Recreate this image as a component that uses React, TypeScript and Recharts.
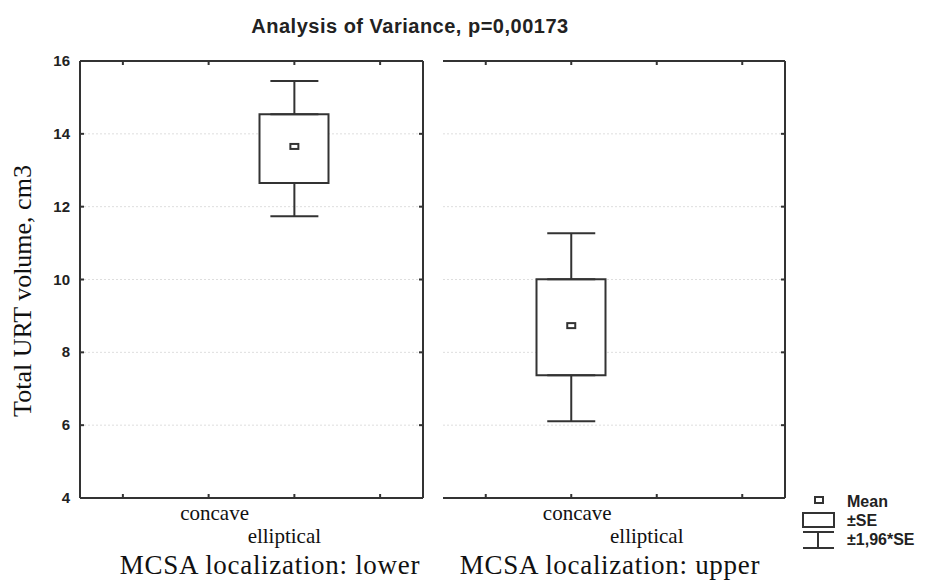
import {
  ComposedChart,
  Bar,
  Scatter,
  ErrorBar,
  XAxis,
  YAxis,
  CartesianGrid,
} from "recharts";

// category slots on each panel's x axis (4 bands, only two are labelled)
const slots = ["s1", "s2", "s3", "s4"];
const slotLabels = ["", "concave", "elliptical", ""];
const yTicks = [4, 6, 8, 10, 12, 14, 16];

// MCSA localization: lower
const lowerMean = [null, null, 13.64, null];
const lowerSeLow = [null, null, 12.65, null];
const lowerSeHigh = [null, null, 14.54, null];
const lowerCiLow = [null, null, 11.74, null];
const lowerCiHigh = [null, null, 15.45, null];

// MCSA localization: upper
const upperMean = [null, 8.72, null, null];
const upperSeLow = [null, 7.37, null, null];
const upperSeHigh = [null, 10.01, null, null];
const upperCiLow = [null, 6.11, null, null];
const upperCiHigh = [null, 11.27, null, null];

const INK = "#333";
const SANS = "'Liberation Sans', Arial, sans-serif";
const SERIF = "'Liberation Serif', 'Times New Roman', serif";

const buildRows = (
  mean: (number | null)[],
  seLow: (number | null)[],
  seHigh: (number | null)[],
  ciLow: (number | null)[],
  ciHigh: (number | null)[]
) =>
  slots.map((slot, i) => {
    const has = mean[i] != null;
    return {
      slot,
      label: slotLabels[i],
      mean: mean[i],
      se: has ? [seLow[i], seHigh[i]] : null,
      seLow: seLow[i],
      seHigh: seHigh[i],
      // whiskers hang off the box edges, so the error is measured from there
      upErr: has ? [0, (ciHigh[i] as number) - (seHigh[i] as number)] : null,
      downErr: has ? [(seLow[i] as number) - (ciLow[i] as number), 0] : null,
    };
  });

const lowerRows = buildRows(lowerMean, lowerSeLow, lowerSeHigh, lowerCiLow, lowerCiHigh);
const upperRows = buildRows(upperMean, upperSeLow, upperSeHigh, upperCiLow, upperCiHigh);

const labelOffset: Record<string, number> = { concave: 6, elliptical: -10 };
const labelDrop: Record<string, number> = { concave: 22, elliptical: 45 };

const BottomTick = (props: any) => {
  const { x, y, payload } = props;
  const idx = slots.indexOf(payload.value);
  const text = slotLabels[idx];
  return (
    <g>
      <line x1={x} x2={x} y1={y} y2={y - 4} stroke={INK} strokeWidth={2} />
      {text && (
        <text
          x={x + labelOffset[text]}
          y={y + labelDrop[text]}
          textAnchor="middle"
          fontFamily={SERIF}
          fontSize={21}
          fill="#111"
        >
          {text}
        </text>
      )}
    </g>
  );
};

const TopTick = (props: any) => (
  <line x1={props.x} x2={props.x} y1={props.y} y2={props.y + 4} stroke={INK} strokeWidth={2} />
);

const LeftTick = (props: any) => {
  const { x, y, payload, showLabel } = props;
  return (
    <g>
      <line x1={x} x2={x + 4} y1={y} y2={y} stroke={INK} strokeWidth={2} />
      {showLabel && (
        <text
          x={x - 10}
          y={y}
          dy={5}
          textAnchor="end"
          fontFamily={SANS}
          fontWeight="bold"
          fontSize={15}
          fill="#222"
        >
          {payload.value}
        </text>
      )}
    </g>
  );
};

const RightTick = (props: any) => (
  <line x1={props.x - 4} x2={props.x} y1={props.y} y2={props.y} stroke={INK} strokeWidth={2} />
);

const MeanMarker = (props: any) => {
  const { cx, cy, payload } = props;
  if (payload == null || payload.mean == null) return <g />;
  return <rect x={cx - 4} y={cy - 3} width={8} height={5} fill="#fff" stroke={INK} strokeWidth={2} />;
};

const Nothing = () => <g />;

interface PanelProps {
  rows: any[];
  left: number;
  width: number;
  margin: { top: number; right: number; bottom: number; left: number };
  yAxisWidth: number;
  showYLabels: boolean;
}

const Panel = ({ rows, left, width, margin, yAxisWidth, showYLabels }: PanelProps) => (
  <div style={{ position: "absolute", left, top: 0 }}>
    <ComposedChart width={width} height={581} data={rows} margin={margin}>
      <CartesianGrid vertical={false} stroke="#dedede" strokeDasharray="2 2" />
      <XAxis
        dataKey="slot"
        type="category"
        height={40}
        interval={0}
        tickSize={0}
        tickMargin={0}
        tickLine={false}
        axisLine={{ stroke: INK, strokeWidth: 2 }}
        tick={<BottomTick />}
      />
      <XAxis
        xAxisId="top"
        dataKey="slot"
        type="category"
        orientation="top"
        height={1}
        interval={0}
        tickSize={0}
        tickMargin={0}
        tickLine={false}
        axisLine={{ stroke: INK, strokeWidth: 2 }}
        tick={<TopTick />}
      />
      <YAxis
        type="number"
        domain={[4, 16]}
        ticks={yTicks}
        width={yAxisWidth}
        interval={0}
        tickSize={0}
        tickMargin={0}
        tickLine={false}
        axisLine={{ stroke: INK, strokeWidth: 2 }}
        tick={<LeftTick showLabel={showYLabels} />}
        allowDataOverflow
      />
      <YAxis
        yAxisId="r"
        orientation="right"
        type="number"
        domain={[4, 16]}
        ticks={yTicks}
        width={1}
        interval={0}
        tickSize={0}
        tickMargin={0}
        tickLine={false}
        axisLine={{ stroke: INK, strokeWidth: 2 }}
        tick={<RightTick />}
        allowDataOverflow
      />
      <Bar
        dataKey="se"
        barSize={69}
        fill="#fff"
        stroke={INK}
        strokeWidth={2}
        isAnimationActive={false}
      />
      <Scatter dataKey="seHigh" shape={<Nothing />} isAnimationActive={false}>
        <ErrorBar dataKey="upErr" direction="y" width={24} stroke={INK} strokeWidth={2} isAnimationActive={false} />
      </Scatter>
      <Scatter dataKey="seLow" shape={<Nothing />} isAnimationActive={false}>
        <ErrorBar dataKey="downErr" direction="y" width={24} stroke={INK} strokeWidth={2} isAnimationActive={false} />
      </Scatter>
      <Scatter dataKey="mean" shape={<MeanMarker />} isAnimationActive={false} />
      {/* invisible series so the top and right frame axes get drawn */}
      <Scatter
        xAxisId="top"
        yAxisId="r"
        dataKey="mean"
        shape={<Nothing />}
        isAnimationActive={false}
      />
    </ComposedChart>
  </div>
);

const Overlay = () => (
  <svg
    width={935}
    height={581}
    style={{ position: "absolute", left: 0, top: 0, pointerEvents: "none" }}
  >
    <text
      x={410}
      y={33}
      textAnchor="middle"
      fontFamily={SANS}
      fontWeight="bold"
      fontSize={20}
      letterSpacing={0.5}
      fill="#222"
    >
      Analysis of Variance, p=0,00173
    </text>
    <text
      transform="translate(31,291) rotate(-90)"
      textAnchor="middle"
      fontFamily={SERIF}
      fontSize={26}
      fill="#111"
    >
      Total URT volume, cm3
    </text>
    <text x={270} y={574} textAnchor="middle" fontFamily={SERIF} fontSize={27} letterSpacing={0.7} fill="#111">
      MCSA localization: lower
    </text>
    <text x={610} y={574} textAnchor="middle" fontFamily={SERIF} fontSize={27} letterSpacing={0.7} fill="#111">
      MCSA localization: upper
    </text>

    {/* legend */}
    <rect x={815} y={497} width={8} height={6} fill="#fff" stroke={INK} strokeWidth={2} />
    <rect x={803} y={513} width={31} height={14} fill="#fff" stroke={INK} strokeWidth={2} />
    <line x1={803} x2={834} y1={532} y2={532} stroke={INK} strokeWidth={2} />
    <line x1={818} x2={818} y1={532} y2={548} stroke={INK} strokeWidth={2} />
    <line x1={803} x2={834} y1={548} y2={548} stroke={INK} strokeWidth={2} />
    <g fontFamily={SANS} fontWeight="bold" fontSize={16} fill="#222">
      <text x={847} y={507}>Mean</text>
      <text x={847} y={526}>±SE</text>
      <text x={847} y={545}>±1,96*SE</text>
    </g>
  </svg>
);

const App = () => (
  <div style={{ position: "absolute", left: 0, top: 0, width: 935, height: 581, background: "#fff" }}>
    <Panel
      rows={lowerRows}
      left={0}
      width={430}
      margin={{ top: 60, right: 6, bottom: 43, left: 0 }}
      yAxisWidth={80}
      showYLabels
    />
    <Panel
      rows={upperRows}
      left={436}
      width={356}
      margin={{ top: 60, right: 6, bottom: 43, left: 7 }}
      yAxisWidth={0}
      showYLabels={false}
    />
    <Overlay />
  </div>
);

export default App;
